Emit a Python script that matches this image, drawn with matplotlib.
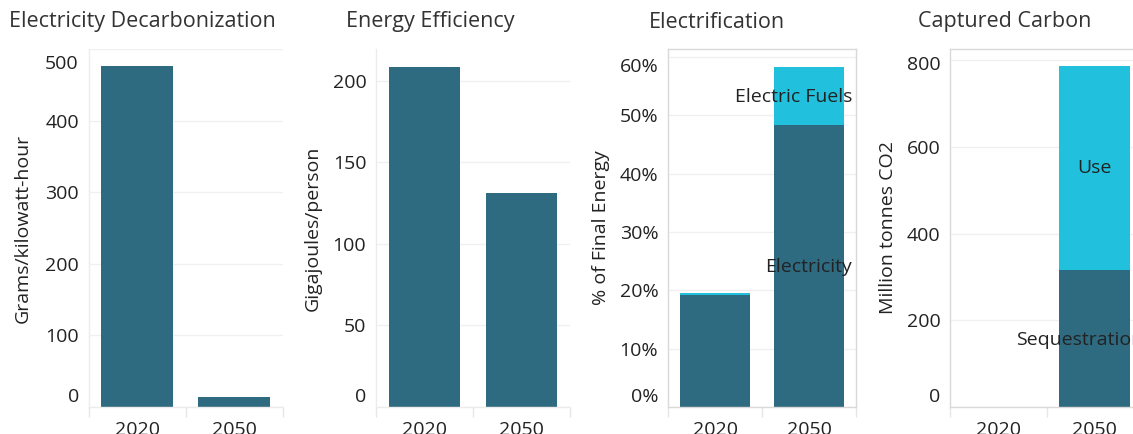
import matplotlib
matplotlib.use('Agg')
import matplotlib.pyplot as plt
import matplotlib.ticker as ticker
from matplotlib.transforms import ScaledTranslation

plt.rcParams['font.family'] = ['Open Sans', 'DejaVu Sans']

# data
years = ['2020', '2050']
grid_intensity = [476, 14]          # g/kWh
energy_per_person = [208.5, 131]    # GJ/person
electricity_share = [19.2, 48.4]    # % of final energy
electric_fuels_share = [0.3, 9.9]
sequestration = [0, 316]            # Mt CO2
carbon_use = [0, 471]

dark = '#2e6a80'
cyan = '#21c1de'
txt = '#222222'

fig = plt.figure(figsize=(11.33, 4.34), dpi=100)

H = 434.0
W = 1133.0
bottom = 1 - 407 / H
height = (407 - 49) / H


def make_ax(x0, x1):
    return fig.add_axes([x0 / W, bottom, (x1 - x0) / W, height])


def shift(label, px):
    label.set_transform(label.get_transform() + ScaledTranslation(0, px / 100, fig.dpi_scale_trans))


def style(ax, ylim, yticks, ylabel, label_x, top_shift=0, framed=False, fmt=None):
    ax.set_xlim(-0.5, 1.5)
    ax.set_ylim(*ylim)
    ax.set_yticks(yticks)
    if fmt:
        ax.yaxis.set_major_formatter(ticker.FuncFormatter(fmt))
    ax.set_xticks([0, 1])
    ax.set_xticklabels(years)
    ax.set_xticks([-0.5, 0.5, 1.5], minor=True)
    ax.tick_params(axis='x', which='major', length=0, pad=10, labelsize=14, labelcolor=txt)
    ax.tick_params(axis='x', which='minor', length=7, color='#e6e6e6', width=1)
    ax.tick_params(axis='y', length=0, pad=7, labelsize=14, labelcolor=txt)
    ax.grid(axis='y', color='#f0f0f0', lw=1)
    ax.set_axisbelow(True)
    for s in ax.spines.values():
        s.set_color('#d9d9d9' if framed else '#ececec')
        s.set_linewidth(1)
    if not framed:
        ax.spines['top'].set_visible(False)
        ax.spines['right'].set_visible(False)
    ax.set_ylabel(ylabel, fontsize=14, color=txt)
    ax.yaxis.set_label_coords(label_x, 0.5)
    ax.yaxis.label.set_va('bottom')
    # edge labels are pushed inside the axis range, like the original
    labels = ax.get_yticklabels()
    shift(labels[0], 12)
    if top_shift:
        shift(labels[-1], -top_shift)


x = [0, 1]
bw = 0.74

# panel 1
ax1 = make_ax(88.5, 282.5)
ax1.bar(x, grid_intensity, width=bw, color=dark)
style(ax1, (0, 500), [0, 100, 200, 300, 400, 500], 'Grams/kilowatt-hour', -0.29, top_shift=13)

# panel 2
ax2 = make_ax(376, 570)
ax2.bar(x, energy_per_person, width=bw, color=dark)
style(ax2, (0, 219.6), [0, 50, 100, 150, 200], 'Gigajoules/person', -0.28)

# panel 3
ax3 = make_ax(668, 856)
ax3.bar(x, electricity_share, width=0.75, color=dark)
ax3.bar(x, electric_fuels_share, width=0.75, bottom=electricity_share, color=cyan)
style(ax3, (0, 61.4), [0, 10, 20, 30, 40, 50, 60], '% of Final Energy', -0.31,
      top_shift=8, framed=True, fmt=lambda v, p: '%d%%' % v)
ax3.text(1.46, 53.2, 'Electric Fuels', ha='right', va='center', fontsize=14, color=txt)
ax3.text(1.46, 24.0, 'Electricity', ha='right', va='center', fontsize=14, color=txt)

# panel 4 (runs off the right edge)
ax4 = make_ax(950, 1143)
ax4.bar(x, sequestration, width=bw, color=dark)
ax4.bar(x, carbon_use, width=bw, bottom=sequestration, color=cyan)
style(ax4, (0, 826), [0, 200, 400, 600, 800], 'Million tonnes CO2', -0.275, top_shift=3, framed=True)
ax4.text(1.0, 551, 'Use', ha='center', va='center', fontsize=14, color=txt)
ax4.text(1.5, 155, 'Sequestration', ha='right', va='center', fontsize=14, color=txt)

# titles
titles = ['Electricity Decarbonization', 'Energy Efficiency', 'Electrification', 'Captured Carbon']
centers = [142, 430, 717, 1005]
for t, c in zip(titles, centers):
    fig.text(c / W, 1 - 22 / H, t, ha='center', va='center', fontsize=15.5, color='#333333')

fig.savefig('out.png', dpi=100)
